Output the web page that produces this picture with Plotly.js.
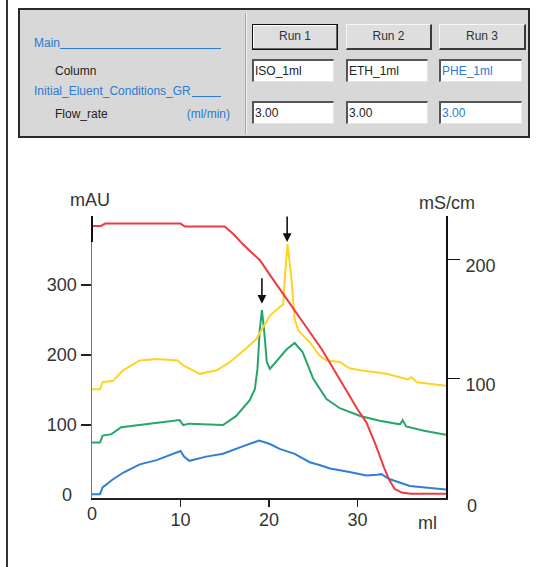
<!DOCTYPE html>
<html>
<head>
<meta charset="utf-8">
<script src="https://cdn.plot.ly/plotly-3.0.1.min.js"></script>
<style>
  html, body { margin:0; padding:0; background:#fff; width:537px; height:567px; overflow:hidden; }
  body { position:relative; font-family:"Liberation Sans", Arial, sans-serif; }
  #chart { position:absolute; left:0; top:0; width:537px; height:567px; }
  .abs { position:absolute; white-space:nowrap; font-size:12px; line-height:14px; color:#222; }
  .blue { color:#2b7bd0; }
  .btn { position:absolute; box-sizing:border-box; height:26px; background:#dedede; text-align:center;
         font-size:12px; line-height:23px; color:#333; }
  .box { position:absolute; box-sizing:border-box; height:23px; background:#fff; font-size:12px; line-height:20px;
         padding-left:1px; color:#222; border-top:2px solid #555; border-left:2px solid #555;
         border-bottom:1px solid #e6e6e6; border-right:1px solid #e6e6e6; }
</style>
</head>
<body>
<div id="chart"></div>
<div id="header"></div>
<script>
// ---------- header table values ----------
const runLabels   = ['Run 1', 'Run 2', 'Run 3'];
const columnNames = ['ISO_1ml', 'ETH_1ml', 'PHE_1ml'];
const flowRates   = ['3.00', '3.00', '3.00'];
const rowLabels   = ['Main', 'Column', 'Initial_Eluent_Conditions_GR', 'Flow_rate'];
const flowUnit    = '(ml/min)';

// ---------- chart data (x in ml) ----------
const blueX = [0, 0.9, 1.2, 2.3, 3.5, 5.4, 7.3, 9.7, 10.0, 10.4, 11.0, 12.9, 14.8, 17.1, 18.9, 20.1, 21.2, 22.9, 24.6, 25.7, 26.9, 29.1, 31.0, 32.2, 32.7, 33.6, 35.9, 40];
const blueY = [1.5, 1.5, 11, 22, 32, 44, 50, 62, 63, 55, 49, 55, 59, 70, 78, 73, 66, 59, 47, 43, 38, 33, 28, 29, 30, 23, 13, 8];

const greenX = [0, 0.9, 1.2, 2.2, 3.3, 5.4, 7.5, 9.7, 9.9, 10.3, 11.0, 12.5, 14.8, 16.3, 17.8, 18.4, 18.7, 18.95, 19.2, 19.45, 19.75, 20.1, 21.2, 22.0, 22.9, 23.8, 25.0, 26.5, 28.0, 30.3, 32.5, 34.8, 35.1, 35.5, 37.5, 40];
const greenY = [75, 75, 85, 87, 97, 100, 103, 107, 107, 100, 102, 101, 100, 113, 135, 151, 180, 235, 264, 235, 190, 180, 197, 208, 217, 204, 166, 137, 124, 113, 106, 101, 107, 98, 92, 86];

const yellowX = [0, 0.9, 1.2, 2.4, 3.5, 5.4, 7.3, 9.7, 10.3, 12.2, 14.1, 15.6, 17.4, 18.6, 18.9, 20.1, 21.2, 21.6, 21.85, 22.1, 22.5, 22.9, 23.3, 23.8, 24.6, 25.7, 26.5, 28.0, 29.1, 30.3, 33.3, 35.7, 36.1, 36.7, 40];
const yellowY = [151, 151, 161, 163, 178, 192, 194, 192, 185, 173, 178, 190, 209, 223, 230, 256, 268, 272, 320, 358, 313, 251, 235, 228, 218, 199, 192, 190, 181, 178, 173, 165, 168, 161, 156];

const redX = [0, 1.0, 1.5, 10.0, 10.5, 15.0, 16, 17, 18, 19, 20, 22, 24, 26, 28, 30, 31, 32, 33, 33.6, 34.2, 35, 36, 40];
const redY = [228, 228, 230, 230, 227.5, 227.5, 221, 213, 206, 199, 188, 167, 145, 124, 99, 74, 63, 45, 25, 14.5, 7, 4, 3, 3];

const peakX = [19.2, 22.05];     // arrow-marked peaks
const peakY = [273, 361];

const xTicks  = [10, 20, 30];
const yTicks  = [100, 200, 300];
const y2Ticks = [100, 200];

// ---------- header ----------
(function buildHeader(){
  const h = document.getElementById('header');
  let s = '';
  s += '<div style="position:absolute;left:6px;top:0;width:2px;height:567px;background:#333"></div>';
  s += '<div style="position:absolute;left:18px;top:8px;width:512px;height:130px;box-sizing:border-box;border:2px solid #2a2a2a;background:#d8d8d8"></div>';
  s += '<div style="position:absolute;left:245px;top:13px;width:1px;height:121px;background:#a6a6a6"></div>';
  s += '<div style="position:absolute;left:246px;top:13px;width:1px;height:121px;background:#f2f2f2"></div>';
  s += '<div class="abs blue" style="left:34px;top:36px">' + rowLabels[0] + '</div>';
  s += '<div style="position:absolute;left:60px;top:48px;width:161px;height:1px;background:#2b7bd0"></div>';
  s += '<div class="abs" style="left:55px;top:64px">' + rowLabels[1] + '</div>';
  s += '<div class="abs blue" style="left:34px;top:84px">' + rowLabels[2] + '</div>';
  s += '<div style="position:absolute;left:192px;top:96px;width:29px;height:1px;background:#2b7bd0"></div>';
  s += '<div class="abs" style="left:55px;top:107px">' + rowLabels[3] + '</div>';
  s += '<div class="abs blue" style="left:160px;top:107px;width:70px;text-align:right">' + flowUnit + '</div>';
  const lefts = [252, 346, 439];
  const widths = [86, 86, 87];
  for (let i = 0; i < 3; i++) {
    const bst = i === 0
      ? 'border:1px solid #111;box-shadow:inset -1px -1px #666, inset 1px 1px #fff;'
      : 'border-style:solid;border-width:1px 2px 2px 1px;border-color:#f6f6f6 #3a3a3a #3a3a3a #f6f6f6;';
    s += '<div class="btn" style="left:' + lefts[i] + 'px;top:24px;width:' + widths[i] + 'px;' + bst + '">' + runLabels[i] + '</div>';
    const col = i === 2 ? 'color:#2b7bd0;' : '';
    s += '<div class="box" style="left:' + lefts[i] + 'px;top:59px;width:' + (widths[i]-4) + 'px;' + col + '">' + columnNames[i] + '</div>';
    s += '<div class="box" style="left:' + lefts[i] + 'px;top:101px;width:' + (widths[i]-4) + 'px;' + col + '">' + flowRates[i] + '</div>';
  }
  h.innerHTML = s;
})();

// ---------- chart ----------
const FONT = 'Liberation Sans, Arial, sans-serif';
const lw = 2;
const traces = [
  {x: blueX, y: blueY, mode: 'lines', line: {color: '#2f7fd2', width: lw}, yaxis: 'y'},
  {x: greenX, y: greenY, mode: 'lines', line: {color: '#27a56a', width: lw}, yaxis: 'y'},
  {x: yellowX, y: yellowY, mode: 'lines', line: {color: '#ffd324', width: lw}, yaxis: 'y'},
  {x: redX, y: redY, mode: 'lines', line: {color: '#ee3b3f', width: lw}, yaxis: 'y2'}
];

const annFont = {family: FONT, size: 18, color: '#333'};
const annotations = [
  {xref: 'paper', yref: 'paper', x: -0.005, y: 1.057, text: 'mAU', showarrow: false, xanchor: 'center', yanchor: 'middle', font: annFont},
  {xref: 'paper', yref: 'paper', x: 1.003, y: 1.046, text: 'mS/cm', showarrow: false, xanchor: 'center', yanchor: 'middle', font: annFont},
  {xref: 'paper', yref: 'paper', x: 0.948, y: -0.089, text: 'ml', showarrow: false, xanchor: 'center', yanchor: 'middle', font: annFont},
  {xref: 'paper', yref: 'y', x: -0.05, y: 0, text: '0', showarrow: false, xanchor: 'right', yanchor: 'middle', font: annFont},
  {xref: 'x', yref: 'paper', x: 0, y: -0.058, text: '0', showarrow: false, xanchor: 'center', yanchor: 'middle', font: annFont},
  {xref: 'paper', yref: 'paper', x: 1.053, y: -0.027, text: '0', showarrow: false, xanchor: 'left', yanchor: 'middle', font: annFont}
];
for (let i = 0; i < peakX.length; i++) {
  annotations.push({xref: 'x', yref: 'y', x: peakX[i], y: peakY[i], text: '', showarrow: true,
    arrowhead: 2, arrowsize: 1.1, arrowwidth: 1.6, arrowcolor: '#111', ax: 0, ay: -27, standoff: 0});
}

const layout = {
  width: 537, height: 567,
  margin: {l: 92, r: 91, t: 216, b: 69, pad: 0},
  paper_bgcolor: 'rgba(0,0,0,0)', plot_bgcolor: 'rgba(0,0,0,0)',
  showlegend: false,
  font: {family: FONT, size: 18, color: '#333'},
  xaxis: {range: [0, 40], tickvals: xTicks, ticks: 'outside', ticklen: 7, tickwidth: 1.5, tickcolor: '#222',
          showline: true, linecolor: '#222', linewidth: 2, showgrid: false, zeroline: false,
          ticklabelstandoff: -3,
          tickfont: {family: FONT, size: 18, color: '#333'}},
  yaxis: {range: [-4, 398], tickvals: yTicks, ticks: 'outside', ticklen: 10, tickwidth: 1.5, tickcolor: '#222',
          showline: true, linecolor: '#777', linewidth: 1.5, showgrid: false, zeroline: false,
          tickfont: {family: FONT, size: 18, color: '#333'}},
  yaxis2: {range: [-0.6, 236.4], tickvals: y2Ticks, ticks: 'outside', ticklen: 12, tickwidth: 1.5, tickcolor: '#111',
           overlaying: 'y', side: 'right', showline: true, linecolor: '#111', linewidth: 2, showgrid: false, zeroline: false,
           ticklabelshift: 6, ticklabelstandoff: 2,
           tickfont: {family: FONT, size: 18, color: '#333'}},
  shapes: [
    {type: 'line', xref: 'paper', yref: 'paper', x0: 0, x1: 0, y0: 1, y1: 0.908, line: {color: '#111', width: 2}}
  ],
  annotations: annotations
};

Plotly.newPlot('chart', traces, layout, {staticPlot: true, displayModeBar: false});
</script>
</body>
</html>
